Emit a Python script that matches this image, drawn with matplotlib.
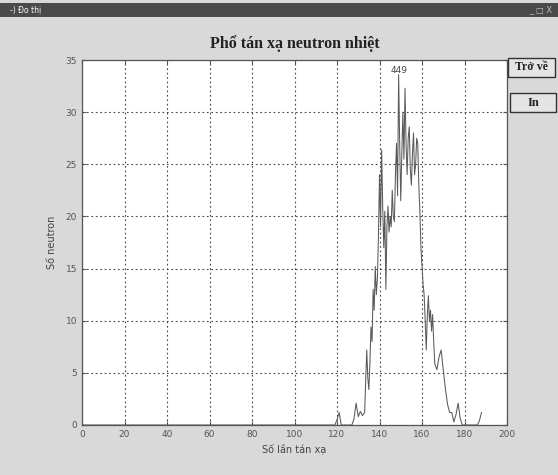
import numpy as np
import matplotlib
matplotlib.use("Agg")
import matplotlib.pyplot as plt
from matplotlib.patches import Rectangle

# neutron counts per number of scatterings;
# everything not listed is zero
counts_tail = {
    120: 0.5, 121: 1.2, 122: 0.0,
    128: 0.6, 129: 2.1, 130: 0.8, 131: 1.3, 132: 0.9, 133: 1.2,
    134: 7.2, 134.5: 4.5, 135: 3.4, 135.5: 6.0, 136: 9.4, 136.5: 8.0,
    137: 13.0, 137.5: 11.0, 138: 15.2, 138.5: 12.5, 139: 14.0, 139.5: 18.0,
    140: 24.0, 140.5: 19.0, 141: 26.4, 141.5: 21.0, 142: 17.0, 142.5: 20.5,
    143: 13.0, 143.5: 19.0, 144: 21.0, 144.5: 18.5, 145: 20.0, 145.5: 19.0,
    146: 22.5, 146.5: 20.0, 147: 19.5, 147.5: 24.0, 148: 27.0, 148.5: 22.0,
    149: 33.6, 149.5: 27.0, 150: 21.5, 150.5: 26.0, 151: 30.0, 151.5: 25.5,
    152: 32.3, 152.5: 27.0, 153: 24.0, 153.5: 27.5, 154: 28.6, 154.5: 24.5,
    155: 23.0, 155.5: 26.0, 156: 28.0, 156.5: 24.0, 157: 25.0, 157.5: 27.5,
    158: 27.0, 158.5: 23.0, 159: 20.5, 159.5: 17.0, 160: 15.2, 160.5: 13.5,
    161: 12.5, 161.5: 10.0, 162: 7.2, 162.5: 10.5, 163: 12.4, 163.5: 10.0,
    164: 11.0, 164.5: 9.0, 165: 10.6, 165.5: 8.0,
    166: 5.9, 167: 5.3, 168: 6.5, 169: 7.2,
    170: 5.3, 171: 3.5, 172: 2.0, 173: 1.2, 174: 1.2, 175: 0.3,
    176: 1.0, 177: 2.1, 178: 0.6, 179: 0.0,
    187: 0.4, 188: 1.2,
}
base_n = list(range(0, 189))
scatter_n = sorted(set(base_n) | set(counts_tail))
neutrons = [counts_tail.get(n, 0.0) for n in scatter_n]

peak_label = "449"
peak_pos = (149, 33.6)

x_ticks = [0, 20, 40, 60, 80, 100, 120, 140, 160, 180, 200]
y_ticks = [0, 5, 10, 15, 20, 25, 30, 35]

BG = "#d9d9d9"

fig = plt.figure(figsize=(5.58, 4.75), dpi=100, facecolor=BG)

# window title bar
fig.patches.append(Rectangle((0, 1 - 17 / 475), 1, 14 / 475, transform=fig.transFigure,
                             facecolor="#4a4a4a", edgecolor="none", zorder=0))
fig.text(10 / 558, 1 - 10 / 475, "-) Đo thị", color="white", fontsize=5.5,
         va="center", ha="left", family="DejaVu Sans")
fig.text(552 / 558, 1 - 10 / 475, "_ □ X", color="#bbbbbb", fontsize=6,
         va="center", ha="right", family="DejaVu Sans")

ax = fig.add_axes([82 / 558, 50 / 475, 425 / 558, 365 / 475])
ax.set_facecolor("white")

ax.plot(scatter_n, neutrons, color="#5a5a5a", linewidth=0.75)
ax.text(peak_pos[0], peak_pos[1], peak_label, fontsize=6.5, color="#444444",
        ha="center", va="bottom", family="DejaVu Sans")

ax.set_xlim(0, 200)
ax.set_ylim(0, 35)
ax.set_xticks(x_ticks)
ax.set_yticks(y_ticks)
ax.tick_params(direction="in", length=3, labelsize=6.5, colors="#555555",
               top=True, right=True)
for lab in ax.get_xticklabels() + ax.get_yticklabels():
    lab.set_family("DejaVu Sans")
ax.grid(True, linestyle=(0, (1.5, 2.5)), color="#444444", linewidth=0.8)
for s in ax.spines.values():
    s.set_color("#555555")
    s.set_linewidth(0.9)

ax.set_title("Phổ tán xạ neutron nhiệt", family="Liberation Serif",
             fontweight="bold", fontsize=11.5, color="#222222", pad=9)
ax.set_xlabel("Số lần tán xạ", fontsize=7, color="#444444", labelpad=3)
ax.set_ylabel("Số neutron", fontsize=7, color="#444444", labelpad=6)

# side buttons
for (x0, y0, w, h, label, fs) in [(508, 58, 47, 19, "Trở về", 8.5),
                                   (510, 93, 46, 19, "In", 9)]:
    fig.patches.append(Rectangle((x0 / 558, 1 - (y0 + h) / 475), w / 558, h / 475,
                                 transform=fig.transFigure, facecolor="#e4e4e4",
                                 edgecolor="#333333", linewidth=1.0))
    fig.text((x0 + w / 2) / 558, 1 - (y0 + h / 2) / 475, label,
             family="Liberation Serif", fontweight="bold", fontsize=fs,
             color="#222222", ha="center", va="center")

fig.savefig("out.png", dpi=100, facecolor=BG)
